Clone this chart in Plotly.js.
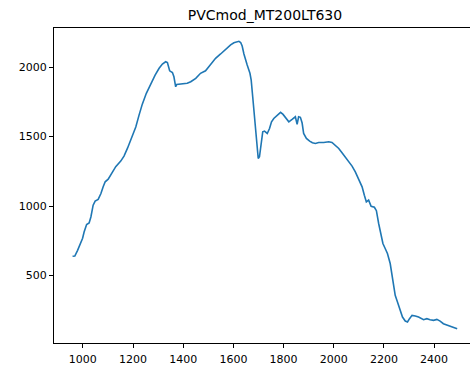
<!DOCTYPE html>
<html>
<head>
<meta charset="utf-8">
<script src="https://cdn.plot.ly/plotly-3.0.1.min.js"></script>
<style>
html, body { margin: 0; padding: 0; overflow: hidden; background: #fff; }
#chart { width: 480px; height: 367px; }
</style>
</head>
<body>
<div id="chart"></div>
<script>
const chartTitle = "PVCmod_MT200LT630";
const wavelength = [959, 968, 979, 992, 999, 1005, 1015, 1025, 1032, 1041, 1049, 1061, 1072, 1081, 1089, 1101, 1111, 1122,
  1131, 1151, 1164, 1178, 1195, 1211, 1224, 1237, 1253, 1271, 1288, 1304, 1317, 1330, 1337, 1346, 1357, 1363, 1370, 1374,
  1383, 1403, 1416, 1430, 1450, 1469, 1489, 1502, 1516, 1529, 1549, 1562, 1576, 1589, 1602, 1615, 1622, 1629, 1635, 1642,
  1648, 1655, 1666, 1671, 1677, 1684, 1692, 1699, 1704, 1711, 1717, 1724, 1735, 1744, 1752, 1761, 1775, 1788, 1798, 1808,
  1821, 1834, 1847, 1854, 1860, 1867, 1874, 1880, 1891, 1904, 1915, 1927, 1940, 1960, 1980, 1993, 2006, 2020, 2033, 2046,
  2059, 2073, 2086, 2099, 2113, 2122, 2130, 2139, 2149, 2162, 2170, 2179, 2188, 2196, 2205, 2214, 2225, 2234, 2245, 2254,
  2265, 2274, 2285, 2294, 2302, 2312, 2325, 2338, 2358, 2371, 2384, 2398, 2411, 2424, 2437, 2457, 2477, 2492];
const intensity = [638, 640, 681, 741, 768, 813, 867, 878, 921, 1006, 1035, 1047, 1090, 1138, 1174, 1193, 1222, 1258,
  1283, 1323, 1359, 1416, 1493, 1568, 1654, 1733, 1811, 1883, 1942, 1991, 2022, 2038, 2032, 1973, 1960, 1930, 1858, 1875,
  1877, 1877, 1883, 1894, 1919, 1955, 1973, 2002, 2038, 2063, 2094, 2117, 2142, 2159, 2175, 2180, 2185, 2177, 2151, 2094,
  2050, 2014, 1955, 1906, 1786, 1642, 1474, 1342, 1354, 1438, 1534, 1539, 1522, 1558, 1606, 1630, 1654, 1674, 1659, 1635,
  1606, 1623, 1642, 1587, 1642, 1638, 1597, 1522, 1486, 1467, 1455, 1450, 1457, 1457, 1462, 1457, 1438, 1414, 1383, 1354,
  1325, 1287, 1246, 1198, 1138, 1078, 1029, 1042, 998, 991, 966, 874, 802, 730, 694, 658, 586, 489, 357, 309,
  249, 201, 172, 165, 189, 213, 208, 201, 182, 189, 182, 177, 184, 172, 153, 141, 129, 117];
const xTicks = [1000, 1200, 1400, 1600, 1800, 2000, 2200, 2400];
const yTicks = [500, 1000, 1500, 2000];

const axisCommon = {
  showline: true, mirror: true, linecolor: '#000', linewidth: 1,
  ticks: 'outside', ticklen: 4, tickwidth: 1, tickcolor: '#000',
  showgrid: false, zeroline: false,
  tickfont: {family: 'DejaVu Sans', size: 11, color: '#000'}
};

Plotly.newPlot('chart', [{
  x: wavelength, y: intensity, type: 'scatter', mode: 'lines',
  line: {color: '#1f77b4', width: 1.6}
}], {
  width: 480, height: 367,
  margin: {l: 54, r: 4, t: 28, b: 24},
  paper_bgcolor: '#fff', plot_bgcolor: '#fff',
  showlegend: false,
  title: {text: chartTitle, x: 0.5, xref: 'paper', y: 0.958, yref: 'container', yanchor: 'middle',
          font: {family: 'DejaVu Sans', size: 14, color: '#000'}},
  xaxis: Object.assign({}, axisCommon, {range: [885, 2567], tickvals: xTicks, ticktext: xTicks.map(String), ticklabelstandoff: 2}),
  yaxis: Object.assign({}, axisCommon, {range: [14, 2281], tickvals: yTicks, ticktext: yTicks.map(String)})
}, {displayModeBar: false, staticPlot: true});
</script>
</body>
</html>
